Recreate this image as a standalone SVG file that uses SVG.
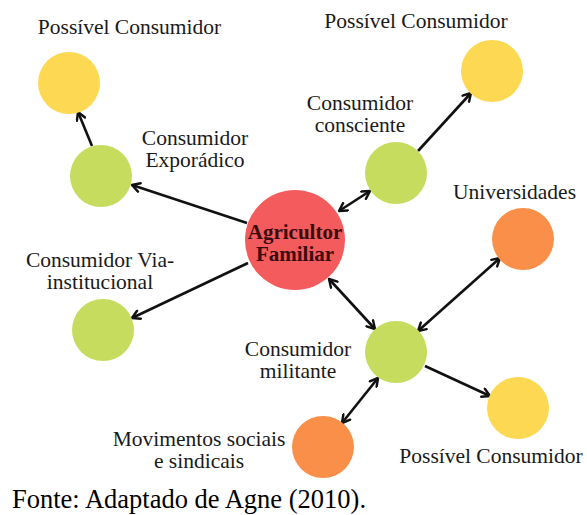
<svg xmlns="http://www.w3.org/2000/svg" width="587" height="515" viewBox="0 0 587 515">
<style>
text{font-family:'Liberation Serif','Tinos','Times New Roman',Times,serif}
.lbl{font-size:21.5px;fill:#1a1a1a;text-anchor:middle}
.main{font-size:21px;font-weight:bold;fill:#3a0a0c;text-anchor:middle}
.foot{font-size:26.5px;fill:#000}
.green{fill:#c6dc5f}
.yellow{fill:#fdd853}
.orange{fill:#f98f48}
.red{fill:#f35b5c}
.con{stroke:#111;stroke-width:2.6;fill:none}
.both{marker-start:url(#ah);marker-end:url(#ah)}
.one{marker-end:url(#ah)}
</style>
<defs>
<marker id="ah" viewBox="0 0 10 10" markerWidth="11" markerHeight="11" refX="8.5" refY="5" orient="auto-start-reverse" markerUnits="userSpaceOnUse">
<path d="M1.5,1 L8.5,5 L1.5,9" fill="none" stroke="#111" stroke-width="2.2" stroke-linecap="round" stroke-linejoin="round"/>
</marker>
</defs>
<rect width="587" height="515" fill="#fff"/>
<g id="connectors">
<path class="con one" d="M247,223 L132,185"/>
<path class="con one" d="M92,146 L78,112"/>
<path class="con both" d="M339,211 L370,191"/>
<path class="con one" d="M418,151 L471,93"/>
<path class="con one" d="M248,263 L132,318"/>
<path class="con both" d="M329,279 L375,329"/>
<path class="con both" d="M500,258 L418,331"/>
<path class="con one" d="M425,366 L490,396"/>
<path class="con both" d="M378,378 L342,423"/>
</g>
<g id="agricultor">
<circle class="red" cx="295" cy="240" r="50"/>
<text class="main" x="295" y="239">Agricultor</text>
<text class="main" x="295" y="261">Familiar</text>
</g>
<g id="possivel-tl">
<circle class="yellow" cx="69" cy="83" r="31"/>
<text class="lbl" x="129.5" y="34">Possível Consumidor</text>
</g>
<g id="exporadico">
<circle class="green" cx="101" cy="176" r="31"/>
<text class="lbl" x="195" y="145">Consumidor</text>
<text class="lbl" x="195" y="167">Exporádico</text>
</g>
<g id="possivel-tr">
<circle class="yellow" cx="492" cy="71" r="31"/>
<text class="lbl" x="416" y="28">Possível Consumidor</text>
</g>
<g id="consciente">
<circle class="green" cx="396" cy="173" r="31"/>
<text class="lbl" x="360" y="110">Consumidor</text>
<text class="lbl" x="360" y="132">consciente</text>
</g>
<g id="universidades">
<circle class="orange" cx="523" cy="239" r="31"/>
<text class="lbl" x="514.5" y="199">Universidades</text>
</g>
<g id="via-institucional">
<circle class="green" cx="103" cy="330" r="31"/>
<text class="lbl" x="100" y="267">Consumidor Via-</text>
<text class="lbl" x="100" y="289">institucional</text>
</g>
<g id="militante">
<circle class="green" cx="396" cy="352" r="31"/>
<text class="lbl" x="298" y="356">Consumidor</text>
<text class="lbl" x="298" y="378">militante</text>
</g>
<g id="possivel-br">
<circle class="yellow" cx="518" cy="408" r="31"/>
<text class="lbl" x="491" y="463">Possível Consumidor</text>
</g>
<g id="movimentos">
<circle class="orange" cx="323" cy="447" r="31"/>
<text class="lbl" x="199" y="446">Movimentos sociais</text>
<text class="lbl" x="199" y="468">e sindicais</text>
</g>
<text class="foot" x="12" y="508">Fonte: Adaptado de Agne (2010).</text>
</svg>
